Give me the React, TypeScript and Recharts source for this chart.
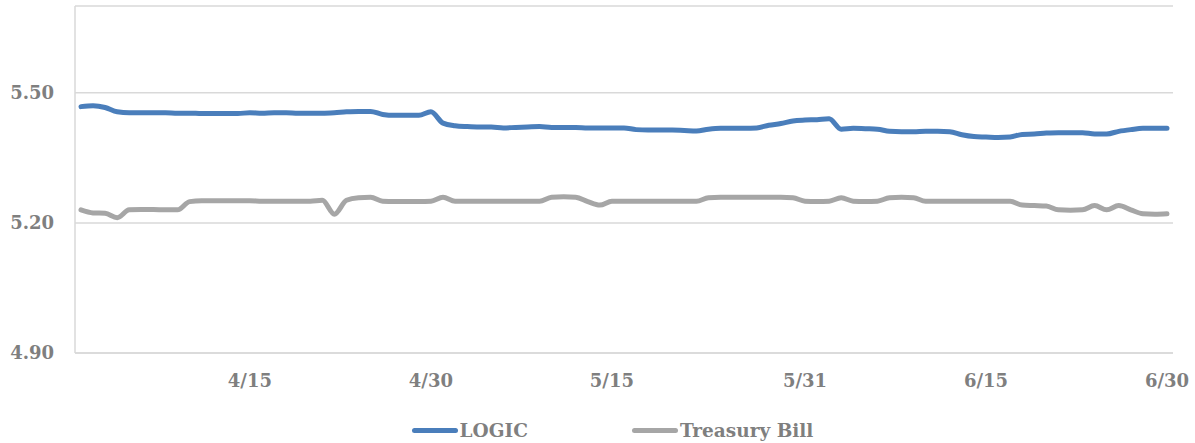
import { LineChart, Line, XAxis, YAxis, CartesianGrid, Legend } from 'recharts'

const dates = [
  '4/1', '4/2', '4/3', '4/4', '4/5', '4/6', '4/7', '4/8', '4/9', '4/10',
  '4/11', '4/12', '4/13', '4/14', '4/15', '4/16', '4/17', '4/18', '4/19', '4/20',
  '4/21', '4/22', '4/23', '4/24', '4/25', '4/26', '4/27', '4/28', '4/29', '4/30',
  '5/1', '5/2', '5/3', '5/4', '5/5', '5/6', '5/7', '5/8', '5/9', '5/10',
  '5/11', '5/12', '5/13', '5/14', '5/15', '5/16', '5/17', '5/18', '5/19', '5/20',
  '5/21', '5/22', '5/23', '5/24', '5/25', '5/26', '5/27', '5/28', '5/29', '5/30',
  '5/31', '6/1', '6/2', '6/3', '6/4', '6/5', '6/6', '6/7', '6/8', '6/9',
  '6/10', '6/11', '6/12', '6/13', '6/14', '6/15', '6/16', '6/17', '6/18', '6/19',
  '6/20', '6/21', '6/22', '6/23', '6/24', '6/25', '6/26', '6/27', '6/28', '6/29',
  '6/30',
]

const logic = [
  5.468, 5.47, 5.466, 5.456, 5.454, 5.454, 5.454, 5.454, 5.453, 5.453,
  5.452, 5.452, 5.452, 5.452, 5.454, 5.453, 5.454, 5.454, 5.453, 5.453,
  5.453, 5.454, 5.456, 5.457, 5.457, 5.45, 5.448, 5.448, 5.448, 5.456,
  5.43, 5.424, 5.422, 5.421, 5.421, 5.419, 5.42, 5.421, 5.422, 5.42,
  5.42, 5.42, 5.419, 5.419, 5.419, 5.419, 5.415, 5.414, 5.414, 5.414,
  5.413, 5.412, 5.416, 5.418, 5.418, 5.418, 5.419, 5.425, 5.429, 5.435,
  5.437, 5.438, 5.44, 5.416, 5.418, 5.417, 5.416, 5.411, 5.41, 5.41,
  5.411, 5.411, 5.41, 5.403, 5.399, 5.398, 5.397, 5.398, 5.404, 5.405,
  5.407, 5.408, 5.408, 5.408, 5.405, 5.405, 5.411, 5.415, 5.418, 5.418,
  5.418,
]

const tbill = [
  5.23, 5.223, 5.222, 5.212, 5.23, 5.231, 5.231, 5.23, 5.23, 5.249,
  5.251, 5.251, 5.251, 5.251, 5.251, 5.25, 5.25, 5.25, 5.25, 5.25,
  5.252, 5.22, 5.252, 5.258, 5.259, 5.25, 5.249, 5.249, 5.249, 5.25,
  5.259, 5.25, 5.25, 5.25, 5.25, 5.25, 5.25, 5.25, 5.25, 5.259,
  5.26, 5.259, 5.249, 5.241, 5.25, 5.25, 5.25, 5.25, 5.25, 5.25,
  5.25, 5.25, 5.258, 5.259, 5.259, 5.259, 5.259, 5.259, 5.259, 5.258,
  5.25, 5.249, 5.25, 5.258, 5.25, 5.249, 5.25, 5.258, 5.259, 5.258,
  5.25, 5.25, 5.25, 5.25, 5.25, 5.25, 5.25, 5.25, 5.241, 5.24,
  5.239, 5.23, 5.229, 5.23, 5.24, 5.23, 5.24, 5.23, 5.221, 5.22,
  5.221,
]

const xTicks = ['4/15', '4/30', '5/15', '5/31', '6/15', '6/30']
const yTicks = [4.9, 5.2, 5.5, 5.7]

const data = dates.map((d, i) => ({ date: d, logic: logic[i], tbill: tbill[i] }))

const font = '"DejaVu Serif", serif'
const labelStyle = { fontFamily: font, fontSize: 18, fontWeight: 700, fill: '#7f7f7f' }

const series = [
  { name: 'LOGIC', color: '#4a7ebb' },
  { name: 'Treasury Bill', color: '#a6a6a6' },
]

function ChartLegend() {
  return (
    <div
      style={{
        display: 'flex',
        justifyContent: 'center',
        paddingLeft: 52,
        paddingTop: 15,
        height: 40,
        boxSizing: 'border-box',
        fontFamily: font,
        fontSize: 18.5,
        fontWeight: 700,
        color: '#7f7f7f',
      }}
    >
      {series.map((s, i) => (
        <div key={s.name} style={{ display: 'flex', alignItems: 'center', marginLeft: i ? 104 : 0 }}>
          <span
            style={{
              display: 'inline-block',
              width: 46,
              height: 5,
              borderRadius: 3,
              background: s.color,
              marginRight: 2,
            }}
          />
          <span>{s.name}</span>
        </div>
      ))}
    </div>
  )
}

export default function App() {
  return (
    <div style={{ width: 1195, height: 443, background: '#fff' }}>
      <style>{'body{margin:0}'}</style>
      <LineChart width={1195} height={443} data={data} margin={{ top: 6, right: 22, left: 0, bottom: 0 }}>
        <CartesianGrid vertical={false} stroke="#d9d9d9" strokeWidth={1.5} />
        <XAxis
          dataKey="date"
          ticks={xTicks}
          interval={0}
          tickLine={false}
          axisLine={{ stroke: '#d9d9d9', strokeWidth: 1.5 }}
          tick={labelStyle}
          tickMargin={15}
          height={50}
          padding={{ left: 6, right: 6 }}
        />
        <YAxis
          domain={[4.9, 5.7]}
          ticks={yTicks}
          interval={0}
          width={75}
          tickLine={false}
          axisLine={{ stroke: '#d9d9d9', strokeWidth: 1.5 }}
          tick={labelStyle}
          tickMargin={15}
          tickFormatter={(v: number) => (v === 5.7 ? '' : v.toFixed(2))}
        />
        <YAxis
          yAxisId="right"
          orientation="right"
          domain={[4.9, 5.7]}
          width={0}
          tick={false}
          tickLine={false}
          axisLine={{ stroke: '#d9d9d9', strokeWidth: 1.5 }}
        />
        <Legend verticalAlign="bottom" height={40} content={() => <ChartLegend />} />
        <Line
          type="monotone"
          dataKey="logic"
          name="LOGIC"
          stroke="#4a7ebb"
          strokeWidth={5}
          strokeLinecap="round"
          dot={false}
          isAnimationActive={false}
        />
        <Line
          type="monotone"
          dataKey="tbill"
          name="Treasury Bill"
          stroke="#a6a6a6"
          strokeWidth={5}
          strokeLinecap="round"
          dot={false}
          isAnimationActive={false}
        />
      </LineChart>
    </div>
  )
}
